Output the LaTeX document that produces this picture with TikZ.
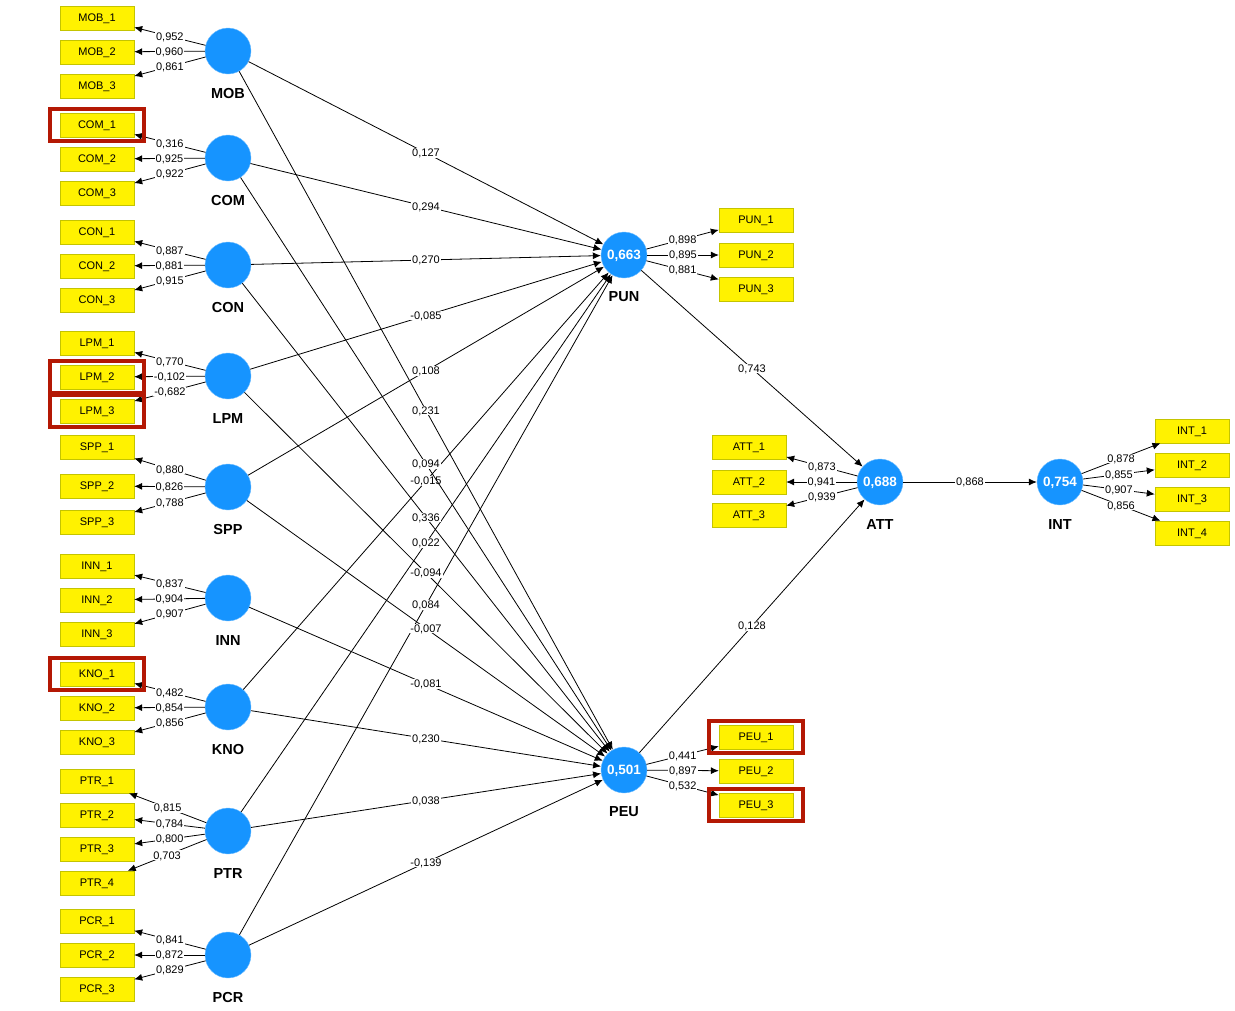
\documentclass[tikz,border=0pt]{standalone}
\usepackage{fontspec}
\setmainfont{Liberation Sans}
\usetikzlibrary{arrows.meta}
\usetikzlibrary{positioning}
\usetikzlibrary{fit}
\definecolor{lvblue}{RGB}{22,148,255}
\definecolor{mvedge}{RGB}{196,196,0}
\definecolor{flagred}{RGB}{180,24,4}

\begin{document}
\begin{tikzpicture}[x=1pt, y=-1pt,
    lv/.style={circle, fill=lvblue, draw=lvblue!60!white, minimum size=46pt, inner sep=0pt, text=white, text depth=0pt, font=\bfseries\fontsize{13.5}{13.5}\selectfont},
    lvname/.style={inner sep=0pt, font=\bfseries\fontsize{14.5}{14.5}\selectfont},
    mv/.style={fill=yellow, draw=mvedge, minimum width=74pt, minimum height=24pt, inner sep=0pt, text depth=0pt, font=\fontsize{11}{11}\selectfont},
    coef/.style={fill=white, inner sep=1pt, text depth=0pt, font=\fontsize{11}{11}\selectfont},
    load/.style={-{Latex[length=8pt,width=7pt]}, line width=0.8pt},
    flag/.style={draw=flagred, line width=4pt, inner xsep=9.5pt, inner ysep=3.5pt}]
                \useasboundingbox (0,0) rectangle (1235,1010);
                % constructs
                \node[lv] (MOB) at (228,51) {};
                \node[lv] (COM) at (228,158) {};
                \node[lv] (CON) at (228,265) {};
                \node[lv] (LPM) at (228,376) {};
                \node[lv] (SPP) at (228,487) {};
                \node[lv] (INN) at (228,598) {};
                \node[lv] (KNO) at (228,707) {};
                \node[lv] (PTR) at (228,831) {};
                \node[lv] (PCR) at (228,955) {};
                \node[lv] (PUN) at (624,255) {0,663};
                \node[lv] (PEU) at (624,770) {0,501};
                \node[lv] (ATT) at (880,482) {0,688};
                \node[lv] (INT) at (1060,482) {0,754};
                \node[lvname, below=14pt of MOB] (MOBname) {MOB};
                \node[lvname, below=14pt of COM] (COMname) {COM};
                \node[lvname, below=14pt of CON] (CONname) {CON};
                \node[lvname, below=14pt of LPM] (LPMname) {LPM};
                \node[lvname, below=14pt of SPP] (SPPname) {SPP};
                \node[lvname, below=14pt of INN] (INNname) {INN};
                \node[lvname, below=14pt of KNO] (KNOname) {KNO};
                \node[lvname, below=14pt of PTR] (PTRname) {PTR};
                \node[lvname, below=14pt of PCR] (PCRname) {PCR};
                \node[lvname, below=13pt of PUN] (PUNname) {PUN};
                \node[lvname, below=13pt of PEU] (PEUname) {PEU};
                \node[lvname, below=14pt of ATT] (ATTname) {ATT};
                \node[lvname, below=14pt of INT] (INTname) {INT};
                % indicators
                \node[mv] (MOB1) at (97,18) {MOB\_1};
                \node[mv] (MOB2) at (97,52) {MOB\_2};
                \node[mv] (MOB3) at (97,86) {MOB\_3};
                \node[mv] (COM1) at (97,125) {COM\_1};
                \node[mv] (COM2) at (97,159) {COM\_2};
                \node[mv] (COM3) at (97,193) {COM\_3};
                \node[mv] (CON1) at (97,232) {CON\_1};
                \node[mv] (CON2) at (97,266) {CON\_2};
                \node[mv] (CON3) at (97,300) {CON\_3};
                \node[mv] (LPM1) at (97,343) {LPM\_1};
                \node[mv] (LPM2) at (97,377) {LPM\_2};
                \node[mv] (LPM3) at (97,411) {LPM\_3};
                \node[mv] (SPP1) at (97,447) {SPP\_1};
                \node[mv] (SPP2) at (97,486) {SPP\_2};
                \node[mv] (SPP3) at (97,522) {SPP\_3};
                \node[mv] (INN1) at (97,566) {INN\_1};
                \node[mv] (INN2) at (97,600) {INN\_2};
                \node[mv] (INN3) at (97,634) {INN\_3};
                \node[mv] (KNO1) at (97,674) {KNO\_1};
                \node[mv] (KNO2) at (97,708) {KNO\_2};
                \node[mv] (KNO3) at (97,742) {KNO\_3};
                \node[mv] (PTR1) at (97,781) {PTR\_1};
                \node[mv] (PTR2) at (97,815) {PTR\_2};
                \node[mv] (PTR3) at (97,849) {PTR\_3};
                \node[mv] (PTR4) at (97,883) {PTR\_4};
                \node[mv] (PCR1) at (97,921) {PCR\_1};
                \node[mv] (PCR2) at (97,955) {PCR\_2};
                \node[mv] (PCR3) at (97,989) {PCR\_3};
                \node[mv] (PUN1) at (756,220) {PUN\_1};
                \node[mv] (PUN2) at (756,255) {PUN\_2};
                \node[mv] (PUN3) at (756,289) {PUN\_3};
                \node[mv] (PEU1) at (756,737) {PEU\_1};
                \node[mv] (PEU2) at (756,771) {PEU\_2};
                \node[mv] (PEU3) at (756,805) {PEU\_3};
                \node[mv] (ATT1) at (749,447) {ATT\_1};
                \node[mv] (ATT2) at (749,482) {ATT\_2};
                \node[mv] (ATT3) at (749,515) {ATT\_3};
                \node[mv] (INT1) at (1192,431) {INT\_1};
                \node[mv] (INT2) at (1192,465) {INT\_2};
                \node[mv] (INT3) at (1192,499) {INT\_3};
                \node[mv] (INT4) at (1192,533) {INT\_4};
                % outer loadings
                \draw[load] (MOB) -- node[coef] {0,952} (MOB1);
                \draw[load] (MOB) -- node[coef] {0,960} (MOB2);
                \draw[load] (MOB) -- node[coef] {0,861} (MOB3);
                \draw[load] (COM) -- node[coef] {0,316} (COM1);
                \draw[load] (COM) -- node[coef] {0,925} (COM2);
                \draw[load] (COM) -- node[coef] {0,922} (COM3);
                \draw[load] (CON) -- node[coef] {0,887} (CON1);
                \draw[load] (CON) -- node[coef] {0,881} (CON2);
                \draw[load] (CON) -- node[coef] {0,915} (CON3);
                \draw[load] (LPM) -- node[coef] {0,770} (LPM1);
                \draw[load] (LPM) -- node[coef] {-0,102} (LPM2);
                \draw[load] (LPM) -- node[coef] {-0,682} (LPM3);
                \draw[load] (SPP) -- node[coef] {0,880} (SPP1);
                \draw[load] (SPP) -- node[coef] {0,826} (SPP2);
                \draw[load] (SPP) -- node[coef] {0,788} (SPP3);
                \draw[load] (INN) -- node[coef] {0,837} (INN1);
                \draw[load] (INN) -- node[coef] {0,904} (INN2);
                \draw[load] (INN) -- node[coef] {0,907} (INN3);
                \draw[load] (KNO) -- node[coef] {0,482} (KNO1);
                \draw[load] (KNO) -- node[coef] {0,854} (KNO2);
                \draw[load] (KNO) -- node[coef] {0,856} (KNO3);
                \draw[load] (PTR) -- node[coef] {0,815} (PTR1);
                \draw[load] (PTR) -- node[coef] {0,784} (PTR2);
                \draw[load] (PTR) -- node[coef] {0,800} (PTR3);
                \draw[load] (PTR) -- node[coef] {0,703} (PTR4);
                \draw[load] (PCR) -- node[coef] {0,841} (PCR1);
                \draw[load] (PCR) -- node[coef] {0,872} (PCR2);
                \draw[load] (PCR) -- node[coef] {0,829} (PCR3);
                \draw[load] (PUN) -- node[coef] {0,898} (PUN1);
                \draw[load] (PUN) -- node[coef] {0,895} (PUN2);
                \draw[load] (PUN) -- node[coef] {0,881} (PUN3);
                \draw[load] (PEU) -- node[coef] {0,441} (PEU1);
                \draw[load] (PEU) -- node[coef] {0,897} (PEU2);
                \draw[load] (PEU) -- node[coef] {0,532} (PEU3);
                \draw[load] (ATT) -- node[coef] {0,873} (ATT1);
                \draw[load] (ATT) -- node[coef] {0,941} (ATT2);
                \draw[load] (ATT) -- node[coef] {0,939} (ATT3);
                \draw[load] (INT) -- node[coef] {0,878} (INT1);
                \draw[load] (INT) -- node[coef] {0,855} (INT2);
                \draw[load] (INT) -- node[coef] {0,907} (INT3);
                \draw[load] (INT) -- node[coef] {0,856} (INT4);
                % inner model
                \draw[load] (MOB) -- node[coef] {0,127} (PUN);
                \draw[load] (COM) -- node[coef] {0,294} (PUN);
                \draw[load] (CON) -- node[coef] {0,270} (PUN);
                \draw[load] (LPM) -- node[coef] {-0,085} (PUN);
                \draw[load] (SPP) -- node[coef] {0,108} (PUN);
                \draw[load] (KNO) -- node[coef] {-0,015} (PUN);
                \draw[load] (PTR) -- node[coef] {0,022} (PUN);
                \draw[load] (PCR) -- node[coef] {0,084} (PUN);
                \draw[load] (MOB) -- node[coef] {0,231} (PEU);
                \draw[load] (COM) -- node[coef] {0,094} (PEU);
                \draw[load] (CON) -- node[coef] {0,336} (PEU);
                \draw[load] (LPM) -- node[coef] {-0,094} (PEU);
                \draw[load] (SPP) -- node[coef] {-0,007} (PEU);
                \draw[load] (INN) -- node[coef] {-0,081} (PEU);
                \draw[load] (KNO) -- node[coef] {0,230} (PEU);
                \draw[load] (PTR) -- node[coef] {0,038} (PEU);
                \draw[load] (PCR) -- node[coef] {-0,139} (PEU);
                \draw[load] (PUN) -- node[coef] {0,743} (ATT);
                \draw[load] (PEU) -- node[coef] {0,128} (ATT);
                \draw[load] (ATT) -- node[coef] {0,868} (INT);
                % flagged indicators
                \node[flag, fit=(COM1)] (COM1flag) {};
                \node[flag, fit=(LPM2)] (LPM2flag) {};
                \node[flag, fit=(LPM3)] (LPM3flag) {};
                \node[flag, fit=(KNO1)] (KNO1flag) {};
                \node[flag, fit=(PEU1)] (PEU1flag) {};
                \node[flag, fit=(PEU3)] (PEU3flag) {};
            \end{tikzpicture}
\end{document}
